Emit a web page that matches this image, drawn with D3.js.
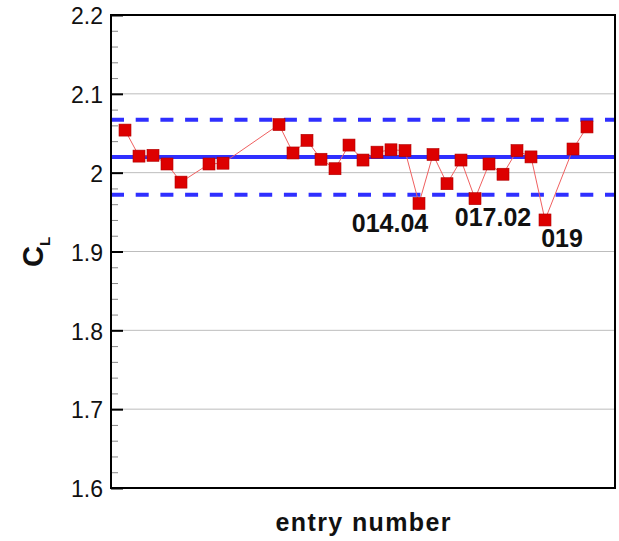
<!DOCTYPE html>
<html>
<head>
<meta charset="utf-8">
<script src="https://cdn.jsdelivr.net/npm/d3@7"></script>
<style>
  body { margin: 0; background: #fff; }
  text { font-family: "Liberation Sans", Arial, Helvetica, sans-serif; }
</style>
</head>
<body>
<svg width="619" height="541"></svg>
<script>
// entry numbers that have a value (6, 9-11 and 32 are missing)
const entries = [1, 2, 3, 4, 5, 7, 8, 12, 13, 14, 15, 16, 17, 18, 19, 20, 21, 22, 23, 24,
                 25, 26, 27, 28, 29, 30, 31, 33, 34];
const cl = [2.054, 2.021, 2.022, 2.011, 1.988, 2.011, 2.012, 2.061, 2.025, 2.041, 2.017, 2.005,
            2.035, 2.016, 2.026, 2.029, 2.028, 1.961, 2.023, 1.986, 2.016, 1.967, 2.011, 1.998,
            2.028, 2.020, 1.940, 2.030, 2.058];

// median and scatter band
const centerValue = 2.02;
const bandValues = [2.067, 1.972];

// labelled outliers
const outlierEntries = [22, 26, 31];
const outlierNames = ['014.04', '017.02', '019'];

const yTicks = [1.6, 1.7, 1.8, 1.9, 2.0, 2.1, 2.2];

const svg = d3.select('svg');
const pLeft = 111, pRight = 615, pTop = 15, pBottom = 488;

const x = d3.scaleLinear().domain([0, 36]).range([pLeft, pRight]);
const y = d3.scaleLinear().domain([1.6, 2.2]).range([pBottom, pTop]);

// --- grid ---
svg.append('g')
  .selectAll('line')
  .data(yTicks.slice(1, -1))
  .join('line')
  .attr('x1', pLeft).attr('x2', pRight)
  .attr('y1', d => y(d)).attr('y2', d => y(d))
  .attr('stroke', '#bdbdbd')
  .attr('stroke-width', 1);

// --- minor ticks ---
const minor = d3.range(1.6, 2.2001, 0.02).filter(v => Math.abs(v * 10 - Math.round(v * 10)) > 1e-6);
svg.append('g')
  .attr('transform', `translate(${pLeft},0)`)
  .call(d3.axisLeft(y).tickValues(minor).tickSize(-7).tickFormat(''))
  .call(g => g.select('.domain').remove())
  .call(g => g.selectAll('line').attr('stroke', '#888').attr('stroke-width', 1));

// --- major ticks + labels ---
svg.append('g')
  .attr('transform', `translate(${pLeft},0)`)
  .call(d3.axisLeft(y).tickValues(yTicks).tickSize(-12).tickPadding(8)
    .tickFormat(d => d === 2 ? '2' : d3.format('.1f')(d)))
  .call(g => g.select('.domain').remove())
  .call(g => g.selectAll('line').attr('stroke', '#000').attr('stroke-width', 2))
  .call(g => g.selectAll('text')
    .attr('dy', '0.38em')
    .attr('fill', '#111')
    .style('font-size', '23px'));

// --- blue reference lines ---
svg.append('line')
  .attr('x1', pLeft).attr('x2', pRight)
  .attr('y1', y(centerValue)).attr('y2', y(centerValue))
  .attr('stroke', '#2f2fff')
  .attr('stroke-width', 4);

svg.append('g')
  .selectAll('line')
  .data(bandValues)
  .join('line')
  .attr('x1', pLeft).attr('x2', pRight)
  .attr('y1', d => y(d)).attr('y2', d => y(d))
  .attr('stroke', '#2f2fff')
  .attr('stroke-width', 4)
  .attr('stroke-dasharray', '13,11.7');

// --- data line + markers ---
const pts = entries.map((e, i) => ({ e, v: cl[i] }));

svg.append('path')
  .datum(pts)
  .attr('fill', 'none')
  .attr('stroke', '#f06060')
  .attr('stroke-width', 1)
  .attr('d', d3.line().x(d => x(d.e)).y(d => y(d.v)));

const s = 12;
svg.append('g')
  .selectAll('rect')
  .data(pts)
  .join('rect')
  .attr('x', d => x(d.e) - s / 2)
  .attr('y', d => y(d.v) - s / 2)
  .attr('width', s)
  .attr('height', s)
  .attr('fill', '#dd0000')
  .attr('stroke', '#b00000')
  .attr('stroke-width', 0.6);

// --- outlier labels ---
const labelShift = [[-29, 29], [18, 27], [17, 27]];
outlierEntries.forEach((e, i) => {
  const v = cl[entries.indexOf(e)];
  svg.append('text')
    .attr('x', x(e) + labelShift[i][0])
    .attr('y', y(v) + labelShift[i][1])
    .attr('text-anchor', 'middle')
    .attr('font-weight', 'bold')
    .attr('fill', '#111')
    .style('font-size', '25px')
    .text(outlierNames[i]);
});

// --- frame ---
svg.append('rect')
  .attr('x', pLeft).attr('y', pTop)
  .attr('width', pRight - pLeft).attr('height', pBottom - pTop)
  .attr('fill', 'none')
  .attr('stroke', '#000')
  .attr('stroke-width', 2);

// --- axis titles ---
svg.append('text')
  .attr('x', (pLeft + pRight) / 2)
  .attr('y', 531)
  .attr('text-anchor', 'middle')
  .attr('font-weight', 'bold')
  .attr('fill', '#111')
  .style('font-size', '25px')
  .attr('textLength', 175)
  .attr('lengthAdjust', 'spacing')
  .text('entry number');

const yt = svg.append('text')
  .attr('transform', 'translate(43,252) rotate(-90)')
  .attr('text-anchor', 'middle')
  .attr('font-weight', 'bold')
  .attr('fill', '#111')
  .style('font-size', '29px');
yt.append('tspan').text('C');
yt.append('tspan').attr('dy', 7).style('font-size', '15px').text('L');
</script>
</body>
</html>
